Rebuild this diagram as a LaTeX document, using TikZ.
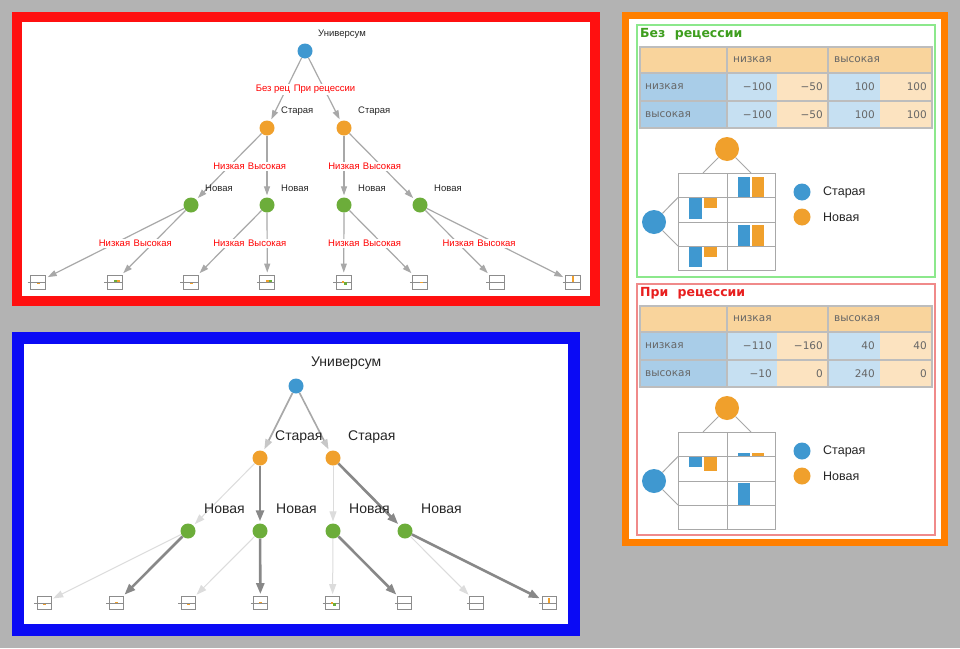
\documentclass[tikz,border=0pt]{standalone}
\usepackage{fontspec}
\setmainfont{Liberation Sans}
\newfontfamily\tabfont{DejaVu Sans}
\usetikzlibrary{arrows.meta}

\definecolor{panelgray}{HTML}{B3B3B3}
\definecolor{framered}{HTML}{FF1010}
\definecolor{frameblue}{HTML}{0A0AF5}
\definecolor{frameorange}{HTML}{FF7F00}
\definecolor{boxgreen}{HTML}{8CE88C}
\definecolor{boxred}{HTML}{F08A8A}
\definecolor{titlegreen}{HTML}{3E9E1E}
\definecolor{titlered}{HTML}{E81E1E}
\definecolor{nblue}{HTML}{3F98D0}
\definecolor{norange}{HTML}{F0A02C}
\definecolor{ngreen}{HTML}{6CAD3A}
\definecolor{edgegray}{HTML}{A8A8A8}
\definecolor{lightedge}{HTML}{DCDCDC}
\definecolor{darkedge}{HTML}{888888}
\definecolor{leafgray}{HTML}{8C8C8C}
\definecolor{hdrtan}{HTML}{F9D49C}
\definecolor{rowblue}{HTML}{A9CDE8}
\definecolor{cellblue}{HTML}{C6E0F2}
\definecolor{celltan}{HTML}{FCE3C0}
\definecolor{tabtext}{HTML}{666666}
\definecolor{tabline}{HTML}{BDBDBD}

\newcommand\shownum[1]{\ifdim#1pt<0pt −\number-#1\else#1\fi}

\begin{document}
\begin{tikzpicture}[x=1pt,y=-1pt,
  dot/.style={circle,inner sep=0pt,minimum size=15pt},
  leaf/.style={draw=leafgray,line width=0.8pt,minimum width=15pt,minimum height=14pt,inner sep=0pt},
  edge/.style={draw=edgegray,line width=1.2pt,-{Triangle[length=9pt,width=6pt]},shorten >=2pt},
  faint/.style={draw=lightedge,line width=1pt,-{Triangle[length=10pt,width=7pt]},shorten >=2pt},
  strong/.style={draw=darkedge,line width=2.6pt,-{Triangle[length=11pt,width=8pt]},shorten >=2pt},
  trunk/.style={draw=edgegray,line width=1.6pt,-{Triangle[length=10pt,width=7pt,color=lightedge!60!edgegray]},shorten >=2pt},
  elab/.style={text=red,fill=white,inner sep=1pt,font=\fontsize{9.5}{11}\selectfont},
  nlab/.style={anchor=west,inner sep=0pt,text=black!85,font=\fontsize{9.5}{11}\selectfont},
  biglab/.style={anchor=west,inner sep=0pt,text=black!85,font=\fontsize{14}{16}\selectfont},
  tab/.style={inner sep=0pt,text=tabtext,font=\tabfont\fontsize{10.5}{12}\selectfont},
  legtxt/.style={anchor=west,inner sep=0pt,text=black!85,font=\fontsize{12.5}{14}\selectfont}]
\useasboundingbox (0,0) rectangle (960,648);
\fill[panelgray] (0,0) rectangle (960,648);

% frames
\draw[fill=white,draw=framered,line width=10pt] (17,17) rectangle (595,301);
\draw[fill=white,draw=frameblue,line width=12pt] (18,338) rectangle (574,630);
\draw[fill=white,draw=frameorange,line width=7pt] (625.5,15.5) rectangle (944.5,542.5);
\draw[boxgreen,line width=1.5pt] (637,25) rectangle (935,277);
\draw[boxred,line width=1.5pt] (637,284) rectangle (935,535);

% upper tree
\node[dot,fill=nblue] (u1) at (305,51) {};
\node[dot,fill=norange] (o1a) at (267,128) {};
\node[dot,fill=norange] (o1b) at (344,128) {};
\node[dot,fill=ngreen] (n1a) at (191,205) {};
\node[dot,fill=ngreen] (n1b) at (267,205) {};
\node[dot,fill=ngreen] (n1c) at (344,205) {};
\node[dot,fill=ngreen] (n1d) at (420,205) {};
\foreach \i in {1,...,8} {
  \node[leaf] (a\i) at ({38+76.43*(\i-1)},282) {};
  \draw[leafgray,line width=0.8pt] ([xshift=-2.5pt]a\i.west) -- (a\i.east);
}
% tiny bars in the leaves
\fill[norange] ([shift={(-1,0.5)}]a1.center) rectangle ++(3,1.5);
\fill[ngreen] ([shift={(0,-2.5)}]a2.center) rectangle ++(3,2.5);
\fill[norange] ([shift={(3,-2.5)}]a2.center) rectangle ++(3,2.5);
\fill[norange] ([shift={(-1,0.5)}]a3.center) rectangle ++(3,1.5);
\fill[norange] ([shift={(-1,-2.5)}]a4.center) rectangle ++(3,2.5);
\fill[ngreen] ([shift={(2,-2.5)}]a4.center) rectangle ++(3,2.5);
\fill[norange] ([shift={(-2,-1)}]a5.center) rectangle ++(2,2);
\fill[ngreen] ([shift={(0,0)}]a5.center) rectangle ++(3,3);
\fill[norange] ([shift={(0,-0.5)}]a6.center) rectangle ++(3,1);
\fill[norange] ([shift={(-1,-6)}]a8.center) rectangle ++(2,6);

\draw[edge] (u1) -- (o1a);
\draw[edge] (u1) -- (o1b);
\draw[edge] (o1a) -- (n1a);
\draw[edge] (o1a) -- (n1b);
\draw[edge] (o1b) -- (n1c);
\draw[edge] (o1b) -- (n1d);
\draw[edge] (n1a) -- (a1);
\draw[edge] (n1a) -- (a2);
\draw[edge] (n1b) -- (a3);
\draw[edge] (n1b) -- (a4);
\draw[edge] (n1c) -- (a5);
\draw[edge] (n1c) -- (a6);
\draw[edge] (n1d) -- (a7);
\draw[edge] (n1d) -- (a8);

\path (u1.center) -- node[elab,xshift=-13pt] {Без рец} (o1a.center);
\path (u1.center) -- node[elab] {При рецессии} (o1b.center);
\path (o1a.center) -- node[elab] {Низкая} (n1a.center);
\path (o1a.center) -- node[elab] {Высокая} (n1b.center);
\path (o1b.center) -- node[elab] {Низкая} (n1c.center);
\path (o1b.center) -- node[elab] {Высокая} (n1d.center);
\path (n1a.center) -- node[elab] {Низкая} (a1.center);
\path (n1a.center) -- node[elab] {Высокая} (a2.center);
\path (n1b.center) -- node[elab] {Низкая} (a3.center);
\path (n1b.center) -- node[elab] {Высокая} (a4.center);
\path (n1c.center) -- node[elab] {Низкая} (a5.center);
\path (n1c.center) -- node[elab] {Высокая} (a6.center);
\path (n1d.center) -- node[elab] {Низкая} (a7.center);
\path (n1d.center) -- node[elab] {Высокая} (a8.center);

\node[nlab] (tu1) at ([shift={(13,-17)}]u1.center) {Универсум};
\node[nlab] (to1a) at ([shift={(14,-17)}]o1a.center) {Старая};
\node[nlab] (to1b) at ([shift={(14,-17)}]o1b.center) {Старая};
\foreach \n in {n1a,n1b,n1c,n1d}
  \node[nlab] (t\n) at ([shift={(14,-17)}]\n.center) {Новая};

% lower tree
\node[dot,fill=nblue] (u2) at (296,386) {};
\node[dot,fill=norange] (o2a) at (260,458) {};
\node[dot,fill=norange] (o2b) at (333,458) {};
\node[dot,fill=ngreen] (n2a) at (188,531) {};
\node[dot,fill=ngreen] (n2b) at (260,531) {};
\node[dot,fill=ngreen] (n2c) at (333,531) {};
\node[dot,fill=ngreen] (n2d) at (405,531) {};
\foreach \i in {1,...,8} {
  \node[leaf,minimum width=14pt,minimum height=13pt] (b\i) at ({44+72.14*(\i-1)},603) {};
  \draw[leafgray,line width=0.8pt] ([xshift=-2.5pt]b\i.west) -- (b\i.east);
}
\fill[norange] ([shift={(-1,0.5)}]b1.center) rectangle ++(3,1.5);
\fill[norange] ([shift={(-1,-1)}]b2.center) rectangle ++(3,1);
\fill[norange] ([shift={(-1,0.5)}]b3.center) rectangle ++(3,1.5);
\fill[norange] ([shift={(-1,-1)}]b4.center) rectangle ++(3,1);
\fill[ngreen] ([shift={(0,0)}]b5.center) rectangle ++(3,2.5);
\fill[norange] ([shift={(-2,-1)}]b5.center) rectangle ++(2,2);
\fill[norange] ([shift={(-1,-5)}]b8.center) rectangle ++(2,5);

\draw[trunk] (u2) -- (o2a);
\draw[trunk] (u2) -- (o2b);
\draw[faint] (o2a) -- (n2a);
\draw[strong] (o2a) -- (n2b);
\draw[faint] (o2b) -- (n2c);
\draw[strong] (o2b) -- (n2d);
\draw[faint] (n2a) -- (b1);
\draw[strong] (n2a) -- (b2);
\draw[faint] (n2b) -- (b3);
\draw[strong] (n2b) -- (b4);
\draw[faint] (n2c) -- (b5);
\draw[strong] (n2c) -- (b6);
\draw[faint] (n2d) -- (b7);
\draw[strong] (n2d) -- (b8);

\node[biglab] (tu2) at ([shift={(15,-23)}]u2.center) {Универсум};
\node[biglab] (to2a) at ([shift={(15,-21)}]o2a.center) {Старая};
\node[biglab] (to2b) at ([shift={(15,-21)}]o2b.center) {Старая};
\foreach \n in {n2a,n2b,n2c,n2d}
  \node[biglab] (t\n) at ([shift={(16,-22)}]\n.center) {Новая};

% right panel: payoff tables and charts
\foreach \yo/\ttl/\tcol/\sc/\va/\vb/\vc/\vd/\ve/\vf/\vg/\vh in {
  0/Без/titlegreen/0.21/-100/-50/100/100/-100/-50/100/100,
  259/При/titlered/0.0917/-110/-160/40/40/-10/0/240/0} {
\begin{scope}[shift={(0,\yo)}]
  \node[anchor=west,inner sep=0pt,text=\tcol,font=\tabfont\bfseries\fontsize{12.5}{14}\selectfont] (ttl\yo) at (640,34) {\ttl\hspace{0.4em} рецессии};
  \fill[hdrtan] (640,47) rectangle (932,73);
  \fill[rowblue] (640,73) rectangle (727,128);
  \fill[cellblue] (727,73) rectangle (777,128);
  \fill[celltan] (777,73) rectangle (828,128);
  \fill[cellblue] (828,73) rectangle (880,128);
  \fill[celltan] (880,73) rectangle (932,128);
  \draw[tabline,line width=1.5pt] (640,47) rectangle (932,128);
  \foreach \yy in {73,101} \draw[tabline,line width=1.5pt] (640,\yy) -- (932,\yy);
  \foreach \xx in {727,828} \draw[tabline,line width=1.5pt] (\xx,47) -- (\xx,128);
  \node[tab,anchor=west] (hlo\yo) at (733,60) {низкая};
  \node[tab,anchor=west] (hhi\yo) at (834,60) {высокая};
  \node[tab,anchor=west] (rlo\yo) at (645,87) {низкая};
  \node[tab,anchor=west] (rhi\yo) at (645,115) {высокая};
  \node[tab,anchor=east] at (772,87) {\shownum{\va}};
  \node[tab,anchor=east] at (823,87) {\shownum{\vb}};
  \node[tab,anchor=east] at (875,87) {\shownum{\vc}};
  \node[tab,anchor=east] at (927,87) {\shownum{\vd}};
  \node[tab,anchor=east] at (772,115) {\shownum{\ve}};
  \node[tab,anchor=east] at (823,115) {\shownum{\vf}};
  \node[tab,anchor=east] at (875,115) {\shownum{\vg}};
  \node[tab,anchor=east] at (927,115) {\shownum{\vh}};
  % chart
  \node[dot,fill=norange,minimum size=24pt] (oc\yo) at (727,149) {};
  \node[dot,fill=nblue,minimum size=24pt] (bc\yo) at (654,222) {};
  \coordinate (gl\yo) at (703,173);
  \coordinate (gr\yo) at (751,173);
  \coordinate (gu\yo) at (678,197.5);
  \coordinate (gd\yo) at (678,246);
  \draw[edgegray,line width=1pt] (oc\yo) -- (gl\yo);
  \draw[edgegray,line width=1pt] (oc\yo) -- (gr\yo);
  \draw[edgegray,line width=1pt] (bc\yo) -- (gu\yo);
  \draw[edgegray,line width=1pt] (bc\yo) -- (gd\yo);
  \fill[nblue] (689,197.5) rectangle (702,{197.5-\sc*\va});
  \fill[norange] (704,197.5) rectangle (717,{197.5-\sc*\vb});
  \fill[nblue] (738,197.5) rectangle (750,{197.5-\sc*\vc});
  \fill[norange] (752,197.5) rectangle (764,{197.5-\sc*\vd});
  \fill[nblue] (689,246) rectangle (702,{246-\sc*\ve});
  \fill[norange] (704,246) rectangle (717,{246-\sc*\vf});
  \fill[nblue] (738,246) rectangle (750,{246-\sc*\vg});
  \fill[norange] (752,246) rectangle (764,{246-\sc*\vh});
  \draw[edgegray,line width=1pt] (678,173) rectangle (775,270);
  \draw[edgegray,line width=1pt] (727,173) -- (727,270);
  \foreach \yy in {197.5,222,246} \draw[edgegray,line width=1pt] (678,\yy) -- (775,\yy);
  % legend
  \node[dot,fill=nblue,minimum size=17pt] (lb\yo) at (802,192) {};
  \node[dot,fill=norange,minimum size=17pt] (lo\yo) at (802,217) {};
  \node[legtxt] at (823,192) {Старая};
  \node[legtxt] at (823,217) {Новая};
\end{scope}
}
\end{tikzpicture}
\end{document}
